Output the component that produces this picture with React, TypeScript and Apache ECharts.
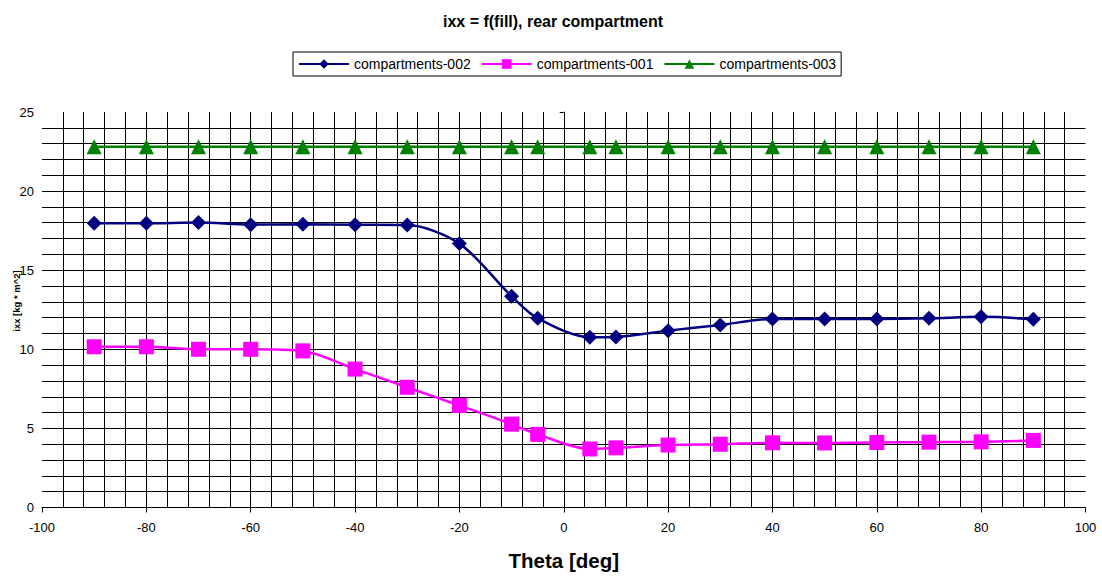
import React, { useEffect, useRef } from "react";
import * as echarts from "echarts";

const thetas = [-90, -80, -70, -60, -50, -40, -30, -20, -10, -5, 5, 10, 20, 30, 40, 50, 60, 70, 80, 90];
const comp002 = [17.97, 17.97, 18.01, 17.88, 17.9, 17.87, 17.85, 16.68, 13.35, 11.96, 10.76, 10.78, 11.18, 11.54, 11.92, 11.92, 11.92, 11.96, 12.05, 11.9];
const comp001 = [10.16, 10.16, 10.0, 10.0, 9.9, 8.75, 7.6, 6.45, 5.27, 4.62, 3.7, 3.77, 3.95, 4.0, 4.09, 4.08, 4.11, 4.13, 4.15, 4.24];
const comp003 = [22.8, 22.8, 22.8, 22.8, 22.8, 22.8, 22.8, 22.8, 22.8, 22.8, 22.8, 22.8, 22.8, 22.8, 22.8, 22.8, 22.8, 22.8, 22.8, 22.8];

const titleText = "ixx = f(fill), rear compartment";
const xName = "Theta [deg]";
const yName = "ixx [kg * m^2]";
const seriesNames = ["compartments-002", "compartments-001", "compartments-003"];

const FONT = "Liberation Sans";

function pairs(ys: number[]) {
  return thetas.map((t, i) => [t, ys[i]]);
}

export default function App() {
  const ref = useRef<HTMLDivElement>(null);
  useEffect(() => {
    if (!ref.current) return;
    const chart = echarts.init(ref.current, null, { renderer: "svg" });
    chart.setOption({
      animation: false,
      backgroundColor: "#fff",
      textStyle: { fontFamily: FONT, color: "#000" },
      title: {
        text: titleText,
        left: 548,
        textAlign: "center",
        top: 8,
        textStyle: { fontSize: 16, fontWeight: "bold", color: "#000", fontFamily: FONT },
      },
      legend: {
        top: 52,
        left: 293,
        data: seriesNames,
        itemWidth: 50,
        itemHeight: 12,
        itemGap: 10,
        padding: [5, 5],
        borderColor: "#000",
        borderWidth: 1,
        textStyle: { fontSize: 14, color: "#000", fontFamily: FONT },
      },
      graphic: [
        {
          type: "text",
          x: 16,
          y: 301,
          rotation: Math.PI / 2,
          style: {
            text: yName,
            fontSize: 9.5,
            fontWeight: "bold",
            fontFamily: FONT,
            fill: "#000",
            textAlign: "center",
            textVerticalAlign: "middle",
          },
        },
      ],
      grid: { left: 42, right: 16.5, top: 112, bottom: 68.5, containLabel: false },
      xAxis: [
        {
          type: "value",
          min: -100,
          max: 100,
          interval: 20,
          name: xName,
          nameLocation: "middle",
          nameGap: 42,
          nameTextStyle: { fontSize: 20.5, fontWeight: "bold", color: "#000", fontFamily: FONT },
          axisLine: { show: true, onZero: false, lineStyle: { color: "#000", width: 1 } },
          axisTick: { show: true, length: 5, lineStyle: { color: "#000" } },
          axisLabel: { fontSize: 13, color: "#000", margin: 13, fontFamily: FONT },
          splitLine: { show: false },
          z: 5,
        },
        {
          type: "value",
          min: -100,
          max: 100,
          interval: 4,
          position: "bottom",
          axisLine: { show: false, onZero: false },
          axisTick: { show: false },
          axisLabel: { show: false },
          splitLine: { show: true, showMinLine: false, showMaxLine: false, lineStyle: { color: "#000", width: 1 } },
        },
      ],
      yAxis: [
        {
          type: "value",
          min: 0,
          max: 25,
          interval: 5,
          axisLine: { show: true, onZero: true, onZeroAxisIndex: 0, lineStyle: { color: "#000", width: 1 } },
          axisTick: { show: true, length: 4, lineStyle: { color: "#000" } },
          axisLabel: { fontSize: 13, color: "#000", margin: 8, fontFamily: FONT },
          splitLine: { show: false },
          z: 5,
        },
        {
          type: "value",
          min: 0,
          max: 25,
          interval: 1,
          position: "left",
          axisLine: { show: false, onZero: false },
          axisTick: { show: false },
          axisLabel: { show: false },
          splitLine: { show: true, showMinLine: false, showMaxLine: false, lineStyle: { color: "#000", width: 1 } },
        },
      ],
      series: [
        {
          name: seriesNames[0],
          type: "line",
          data: pairs(comp002),
          smooth: 0.3,
          symbol: "diamond",
          symbolSize: 15,
          itemStyle: { color: "#000080" },
          lineStyle: { color: "#000080", width: 2.5 },
          z: 10,
        },
        {
          name: seriesNames[1],
          type: "line",
          data: pairs(comp001),
          smooth: 0.3,
          symbol: "rect",
          symbolSize: 15,
          itemStyle: { color: "#FF00FF" },
          lineStyle: { color: "#FF00FF", width: 2.5 },
          z: 10,
        },
        {
          name: seriesNames[2],
          type: "line",
          data: pairs(comp003),
          symbol: "triangle",
          symbolSize: 15,
          itemStyle: { color: "#008000" },
          lineStyle: { color: "#008000", width: 2.5 },
          z: 10,
        },
      ],
    });
    return () => chart.dispose();
  }, []);
  return (
    <div
      ref={ref}
      style={{ position: "absolute", left: 0, top: 0, width: 1102, height: 576 }}
    />
  );
}
